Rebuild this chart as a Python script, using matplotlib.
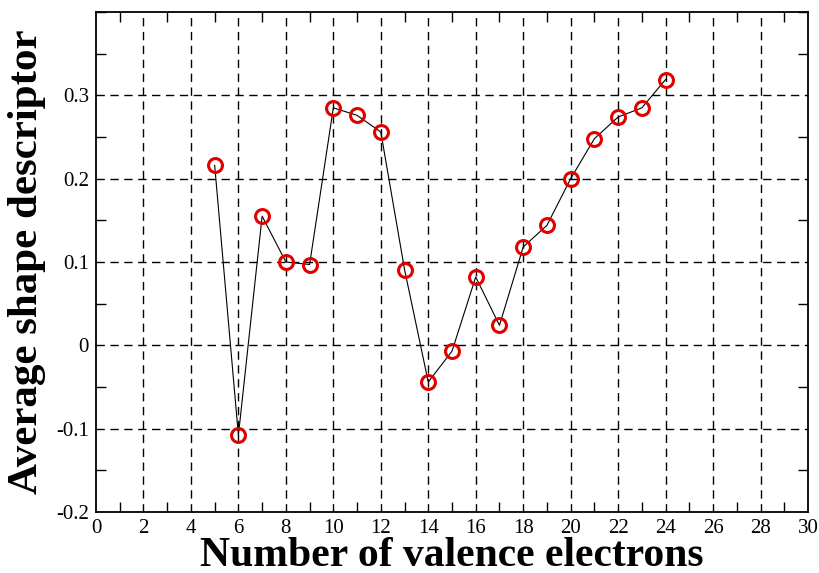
import matplotlib
matplotlib.use('Agg')
import matplotlib.pyplot as plt
from matplotlib.ticker import MultipleLocator

plt.rcParams['font.family'] = ['Liberation Serif', 'DejaVu Serif']

electrons = [5, 6, 7, 8, 9, 10, 11, 12, 13, 14, 15, 16, 17, 18, 19, 20, 21, 22, 23, 24]
shape_desc = [0.216, -0.108, 0.155, 0.100, 0.097, 0.285, 0.276, 0.256, 0.091, -0.044,
              -0.007, 0.082, 0.024, 0.118, 0.144, 0.200, 0.248, 0.274, 0.285, 0.319]
x_ticks = list(range(0, 31, 2))
y_ticks = [-0.2, -0.1, 0, 0.1, 0.2, 0.3]
y_labels = ['-0.2', '-0.1', '0', '0.1', '0.2', '0.3']

fig = plt.figure(figsize=(8.2, 5.73), dpi=100)
ax = fig.add_axes([96 / 820, 1 - 512 / 573, 712 / 820, 500 / 573])

ax.plot(electrons, shape_desc, color='black', lw=0.8, zorder=3)
ax.plot(electrons, shape_desc, linestyle='none', marker='o', ms=10, mfc='none',
        mec='#e00000', mew=2.2, zorder=4)

ax.set_xlim(0, 30)
ax.set_ylim(-0.2, 0.4)
ax.set_xticks(x_ticks)
ax.set_yticks(y_ticks)
ax.set_yticklabels(y_labels)
ax.xaxis.set_minor_locator(MultipleLocator(1))
ax.yaxis.set_minor_locator(MultipleLocator(0.05))

# grid drawn at major positions, xmgrace style
for gx in x_ticks[1:-1]:
    ax.axvline(gx, color='black', lw=1, ls=(0, (6, 4)), zorder=1)
for gy in y_ticks[1:]:
    ax.axhline(gy, color='black', lw=1, ls=(0, (6, 4)), zorder=1)

ax.tick_params(which='both', direction='in', top=True, right=True, labelsize=15)
ax.tick_params(which='major', length=0, pad=5)
ax.tick_params(which='minor', length=7, width=1)
for s in ax.spines.values():
    s.set_linewidth(1.3)

ax.set_xlabel('Number of valence electrons', fontsize=30, fontweight='bold', labelpad=-1)
ax.set_ylabel('Average shape descriptor', fontsize=31, fontweight='bold', labelpad=7)

fig.savefig('out.png', dpi=100)
